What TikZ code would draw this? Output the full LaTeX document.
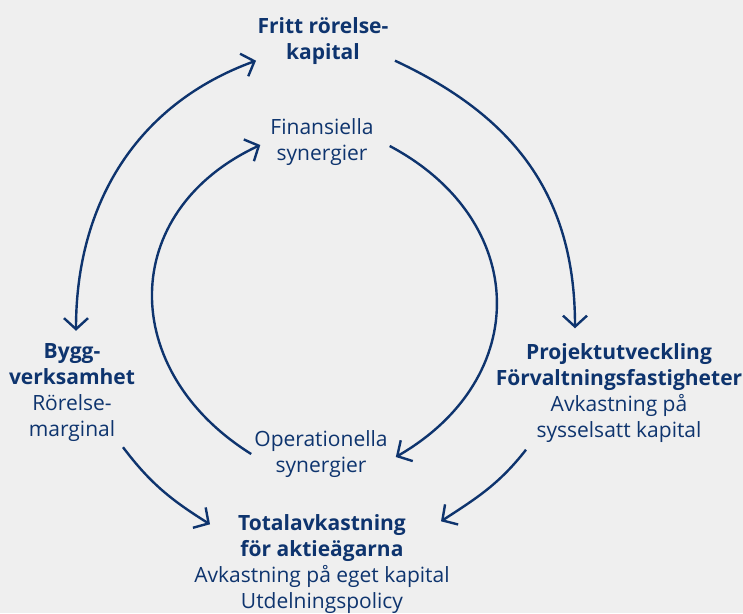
\documentclass[tikz,border=0pt]{standalone}
\usepackage{fontspec}
\setmainfont{Open Sans}
\usetikzlibrary{arrows.meta}
\definecolor{navy}{RGB}{14,52,110}
\definecolor{bg}{RGB}{239,239,239}
\begin{document}
\begin{tikzpicture}[x=1pt,y=1pt,every node/.style={text=navy,align=center,inner sep=3pt,font=\fontsize{21}{26}\selectfont},flow/.style={draw=navy,line width=2.4pt,-{Straight Barb[length=11pt,width=24pt]}}]
  \fill[bg] (0,0) rectangle (743,613);
  \useasboundingbox (0,0) rectangle (743,613);

  \node (fritt) at (323,572){\textbf{Fritt rörelse-}\\\textbf{kapital}};
  \node (finans) at (322,471){Finansiella\\synergier};
  \node (bygg) at (72,220){\textbf{Bygg-}\\\textbf{verksamhet}\\Rörelse-\\marginal};
  \node (projekt) at (619,220){\textbf{Projektutveckling}\\\textbf{Förvaltningsfastigheter}\\Avkastning på\\sysselsatt kapital};
  \node (oper) at (321,159){Operationella\\synergier};
  \node (total) at (322,49){\textbf{Totalavkastning}\\\textbf{för aktieägarna}\\Avkastning på eget kapital\\Utdelningspolicy};

  \draw[flow,{Straight Barb[length=11pt,width=24pt]}-{Straight Barb[length=11pt,width=24pt]}]([shift={(4pt,10pt)}]bygg.north) to[out=90,in=200] ([shift={(-67pt,7pt)}]fritt.south);
  \draw[flow]([shift={(72pt,7pt)}]fritt.south) to[out=-25,in=90,looseness=1.05] ([shift={(-44pt,12pt)}]projekt.north);
  \draw[flow](oper.west) to[out=148,in=205,looseness=1.3] ([shift={(-7pt,-3pt)}]finans.west);
  \draw[flow]([shift={(13pt,-4pt)}]finans.east) to[out=-28,in=30,looseness=1.3] ([shift={(5pt,-3pt)}]oper.east);
  \draw[flow]([shift={(51pt,-2pt)}]bygg.south) to[out=-53,in=148] ([shift={(-112pt,-13pt)}]total.north);
  \draw[flow]([shift={(-93pt,-4pt)}]projekt.south) to[out=232,in=33] ([shift={(119pt,-10pt)}]total.north);
\end{tikzpicture}
\end{document}
